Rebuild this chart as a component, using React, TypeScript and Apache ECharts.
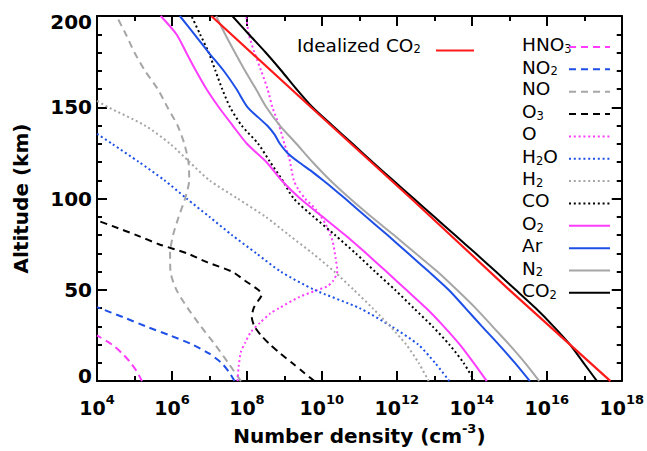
import React, { useEffect, useRef } from "react";
import * as echarts from "echarts";

// ---- axis ticks (log10 of number density, altitude km) ----
const xTickExponents = [4, 6, 8, 10, 12, 14, 16, 18];
const yTicks = [0, 50, 100, 150, 200];

// ---- profiles: log10(number density / cm^-3) ----
const altitudes = [0, 10, 20, 30, 40, 50, 60, 70, 80, 90, 100, 110, 120, 130, 140, 150, 160, 170, 180, 190, 200];

const co2Log = [17.34, 16.98, 16.62, 16.18, 15.7, 15.17, 14.64, 14.1, 13.55, 13.0, 12.45, 11.9, 11.35, 10.82, 10.28, 9.75, 9.32, 8.92, 8.5, 8.05, 7.61];
const n2Log = [15.8, 15.42, 15.0, 14.55, 14.1, 13.6, 13.08, 12.5, 11.92, 11.32, 10.75, 10.22, 9.75, 9.32, 8.88, 8.52, 8.24, 7.95, 7.68, 7.42, 7.18];
const o2Log = [14.4, 14.05, 13.68, 13.25, 12.78, 12.25, 11.72, 11.18, 10.62, 10.02, 9.42, 8.92, 8.52, 8.0, 7.62, 7.25, 6.92, 6.64, 6.38, 6.12, 5.7];
const coLog = [14.07, 13.78, 13.4, 12.95, 12.45, 11.95, 11.42, 10.9, 10.35, 9.78, 9.25, 8.95, 8.62, 8.3, 7.86, 7.55, 7.34, 7.16, 6.98, 6.75, 6.52];
const noLog = [7.84, 7.5, 7.15, 6.77, 6.42, 6.12, 5.96, 5.95, 6.03, 6.18, 6.35, 6.46, 6.44, 6.33, 6.15, 5.88, 5.62, 5.28, 5.0, 4.77, 4.52];

const arAlt = [0, 10, 20, 30, 40, 50, 60, 70, 80, 90, 100, 105, 110, 115, 120, 125, 130, 135, 140, 150, 160, 170, 180, 190, 200];
const arLog = [15.55, 15.15, 14.72, 14.27, 13.83, 13.38, 12.85, 12.3, 11.75, 11.18, 10.62, 10.33, 10.03, 9.72, 9.38, 9.08, 8.88, 8.74, 8.54, 8.02, 7.72, 7.38, 6.98, 6.6, 6.21];

const idealAlt = [0, 50, 100, 150, 200];
const idealLog = [17.7, 15.0, 12.38, 9.71, 7.05];

const oAlt = [0, 8, 16, 21, 27, 32, 37, 40, 46, 49.6, 52, 55, 60, 67, 77, 86, 94, 100, 105, 110, 122, 130, 140, 150, 160, 170, 180, 190, 200];
const oLog = [7.75, 7.78, 7.84, 7.95, 8.11, 8.35, 8.62, 8.86, 9.39, 9.84, 10.15, 10.3, 10.41, 10.37, 10.28, 10.1, 9.84, 9.55, 9.37, 9.25, 9.13, 9.0, 8.86, 8.68, 8.55, 8.38, 8.2, 8.05, 7.98];

const h2oAlt = [0, 10, 20, 30, 40, 50, 60, 70, 80, 90, 100, 110, 120, 130, 135.5];
const h2oLog = [13.4, 13.02, 12.57, 11.85, 11.0, 9.8, 8.9, 8.25, 7.6, 7.0, 6.39, 5.8, 5.12, 4.4, 4.0];

const h2Alt = [0, 10, 20, 30, 40, 50, 60, 70, 80, 90, 100, 110, 120, 130, 140, 150, 153.5];
const h2Log = [12.85, 12.58, 12.25, 11.82, 11.35, 10.85, 10.33, 9.75, 9.12, 8.5, 7.75, 7.0, 6.47, 5.95, 5.28, 4.3, 4.0];

const o3Alt = [0, 5, 10, 15, 20, 25, 30, 35, 40, 44, 47.5, 50, 55, 60, 65, 70, 75, 80, 85, 88];
const o3Log = [9.8, 9.5, 9.2, 8.9, 8.62, 8.38, 8.2, 8.13, 8.18, 8.3, 8.4, 8.3, 7.95, 7.6, 6.95, 6.4, 5.65, 5.05, 4.4, 4.0];

const no2Alt = [0, 5, 10, 15, 20, 25, 30, 35, 40.5];
const no2Log = [7.67, 7.52, 7.32, 7.0, 6.55, 5.95, 5.3, 4.7, 4.0];

const hno3Alt = [0, 5, 10, 15, 20, 25];
const hno3Log = [5.2, 5.07, 4.9, 4.68, 4.4, 4.0];

// ---- styles ----
const MAGENTA = "#ff3cff";
const BLUE = "#1e4fe6";
const GRAY = "#a6a6a6";
const BLACK = "#000000";
const RED = "#ff1a1a";
const DASH = [7, 5];
const DOT = [2, 2.8];

const pairs = (xs: number[], ys: number[]) => xs.map((x, i) => [x, ys[i]]);

type Sp = { name: string; label: string; sub: boolean; color: string; dash: number[] | null; data: number[][] };

const species: Sp[] = [
  { name: "HNO3", label: "{m|HNO}{s|3}", sub: true, color: MAGENTA, dash: DASH, data: pairs(hno3Log, hno3Alt) },
  { name: "NO2", label: "{m|NO}{s|2}", sub: true, color: BLUE, dash: DASH, data: pairs(no2Log, no2Alt) },
  { name: "NO", label: "{m|NO}", sub: false, color: GRAY, dash: DASH, data: pairs(noLog, altitudes) },
  { name: "O3", label: "{m|O}{s|3}", sub: true, color: BLACK, dash: DASH, data: pairs(o3Log, o3Alt) },
  { name: "O", label: "{m|O}", sub: false, color: MAGENTA, dash: DOT, data: pairs(oLog, oAlt) },
  { name: "H2O", label: "{m|H}{s|2}{m|O}", sub: true, color: BLUE, dash: DOT, data: pairs(h2oLog, h2oAlt) },
  { name: "H2", label: "{m|H}{s|2}", sub: true, color: GRAY, dash: DOT, data: pairs(h2Log, h2Alt) },
  { name: "CO", label: "{m|CO}", sub: false, color: BLACK, dash: DOT, data: pairs(coLog, altitudes) },
  { name: "O2", label: "{m|O}{s|2}", sub: true, color: MAGENTA, dash: null, data: pairs(o2Log, altitudes) },
  { name: "Ar", label: "{m|Ar}", sub: false, color: BLUE, dash: null, data: pairs(arLog, arAlt) },
  { name: "N2", label: "{m|N}{s|2}", sub: true, color: GRAY, dash: null, data: pairs(n2Log, altitudes) },
  { name: "CO2", label: "{m|CO}{s|2}", sub: true, color: BLACK, dash: null, data: pairs(co2Log, altitudes) },
];

const AXIS_FONT = "DejaVu Sans";
const LEG_FONT = "DejaVu Sans";

// main glyph centred at top+8, subscript centred at top+12.5; box height 17.5
const legendRich = {
  m: { fontFamily: LEG_FONT, fontSize: 18.5, lineHeight: 16, verticalAlign: "top", color: "#000" },
  s: { fontFamily: LEG_FONT, fontSize: 11.5, lineHeight: 10, verticalAlign: "top", padding: [7.5, 0, 0, 0], color: "#000" },
};

function buildOption() {
  const xMin = xTickExponents[0];
  const xMax = xTickExponents[xTickExponents.length - 1];
  const yMin = yTicks[0];
  const yMax = yTicks[yTicks.length - 1];

  const series: any[] = species.map((s) => ({
    name: s.name,
    type: "line",
    data: s.data,
    symbol: "none",
    showSymbol: false,
    smooth: 0.25,
    clip: true,
    xAxisIndex: 0,
    yAxisIndex: 0,
    lineStyle: { color: s.color, width: 2, type: s.dash ? s.dash : "solid", cap: "butt" },
    z: 2,
  }));
  series.push({
    name: "Idealized CO2",
    type: "line",
    data: pairs(idealLog, idealAlt),
    symbol: "none",
    showSymbol: false,
    clip: true,
    lineStyle: { color: RED, width: 2.2 },
    z: 3,
  });

  const rowTop = 42.5;
  const rowStep = 22.35;
  const graphic: any[] = [];
  species.forEach((s, i) => {
    const cy = rowTop + rowStep * i;
    graphic.push({
      type: "text",
      x: 522,
      y: s.sub ? cy + 0.75 : cy,
      style: { text: s.label, rich: legendRich, align: "left", verticalAlign: "middle", fill: "#000" },
      z: 10,
    });
    graphic.push({
      type: "line",
      shape: { x1: 569, y1: cy + 4.5, x2: 610, y2: cy + 4.5 },
      style: { stroke: s.color, lineWidth: 2, lineDash: s.dash ? s.dash : null },
      z: 10,
    });
  });
  graphic.push({
    type: "text",
    x: 297,
    y: 43.5,
    style: { text: "{m|Idealized CO}{s|2}", rich: legendRich, align: "left", verticalAlign: "middle", fill: "#000" },
    z: 10,
  });
  graphic.push({
    type: "line",
    shape: { x1: 436, y1: 50.5, x2: 474, y2: 50.5 },
    style: { stroke: RED, lineWidth: 2.2 },
    z: 10,
  });

  const axisLine = { show: true, onZero: false, lineStyle: { color: "#000", width: 2 } };
  const tick = { show: true, inside: true, length: 10, lineStyle: { color: "#000", width: 2 } };
  const minor = (n: number) => ({ show: true, splitNumber: n, length: 5, lineStyle: { color: "#000", width: 2 } });

  const xRich = {
    b: { fontFamily: AXIS_FONT, fontWeight: "bold", fontSize: 19, lineHeight: 24, verticalAlign: "bottom", color: "#000" },
    s: { fontFamily: AXIS_FONT, fontWeight: "bold", fontSize: 13, lineHeight: 12, verticalAlign: "top", color: "#000" },
  };
  const yRich = {
    n: { fontFamily: AXIS_FONT, fontWeight: "bold", fontSize: 20, color: "#000" },
    t: { fontFamily: AXIS_FONT, fontWeight: "bold", fontSize: 20, color: "#000", padding: [12, 0, 0, 0] },
    u: { fontFamily: AXIS_FONT, fontWeight: "bold", fontSize: 20, color: "#000", padding: [0, 0, 10, 0] },
  };
  const nameRich = {
    a: { fontFamily: AXIS_FONT, fontWeight: "bold", fontSize: 20, lineHeight: 24, verticalAlign: "bottom", color: "#000" },
    s: { fontFamily: AXIS_FONT, fontWeight: "bold", fontSize: 13, lineHeight: 12, verticalAlign: "top", color: "#000" },
  };

  return {
    animation: false,
    backgroundColor: "#fff",
    grid: { left: 97, right: 23, top: 16, bottom: 64, containLabel: false },
    xAxis: [
      {
        type: "value",
        position: "bottom",
        min: xMin,
        max: xMax,
        interval: 2,
        axisLine,
        axisTick: tick,
        minorTick: minor(2),
        splitLine: { show: false },
        axisLabel: {
          margin: 12,
          formatter: (v: number) => `{b|10}{s|${v}}`,
          rich: xRich,
        },
        name: "{a|Number density (cm}{s|-3}{a|)}",
        nameLocation: "middle",
        nameGap: 38,
        nameTextStyle: { rich: nameRich },
      },
      {
        type: "value",
        position: "top",
        min: xMin,
        max: xMax,
        interval: 2,
        axisLine,
        axisTick: tick,
        minorTick: minor(2),
        splitLine: { show: false },
        axisLabel: { show: false },
      },
    ],
    yAxis: [
      {
        type: "value",
        position: "left",
        min: yMin,
        max: yMax,
        interval: 50,
        axisLine,
        axisTick: tick,
        minorTick: minor(5),
        splitLine: { show: false },
        axisLabel: {
          margin: 5,
          formatter: (v: number) => (v === yMax ? `{t|${v}}` : v === yMin ? `{u|${v}}` : `{n|${v}}`),
          rich: yRich,
        },
        name: "Altitude (km)",
        nameLocation: "middle",
        nameGap: 66,
        nameTextStyle: { fontFamily: AXIS_FONT, fontWeight: "bold", fontSize: 20, color: "#000" },
      },
      {
        type: "value",
        position: "right",
        min: yMin,
        max: yMax,
        interval: 50,
        axisLine,
        axisTick: tick,
        minorTick: minor(5),
        splitLine: { show: false },
        axisLabel: { show: false },
      },
    ],
    series,
    graphic,
  };
}

export default function App() {
  const ref = useRef<HTMLDivElement>(null);
  useEffect(() => {
    if (!ref.current) return;
    const chart = echarts.init(ref.current, null, { renderer: "svg" });
    chart.setOption(buildOption() as any);
    return () => chart.dispose();
  }, []);
  return (
    <div
      ref={ref}
      style={{ position: "fixed", left: 0, top: 0, width: 647, height: 451, background: "#fff" }}
    />
  );
}
